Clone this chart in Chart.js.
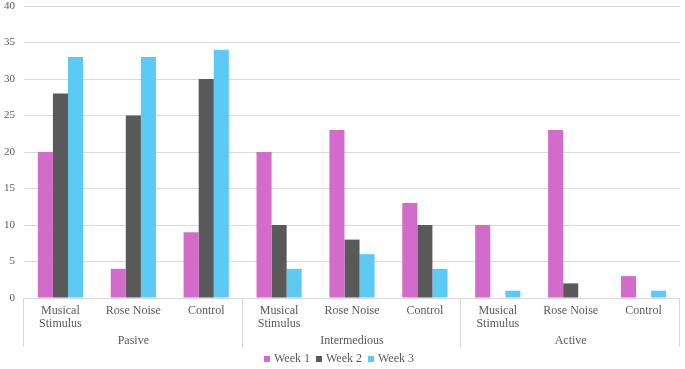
<!DOCTYPE html>
<html>
<head>
<meta charset="utf-8">
<script src="https://cdn.jsdelivr.net/npm/chart.js@4"></script>
<style>
  html, body { margin: 0; background: #fff; }
  #wrap { width: 685px; height: 369px; }
</style>
</head>
<body>
<div id="wrap"><canvas id="chart"></canvas></div>
<script>
const groups = ['Pasive', 'Intermedious', 'Active'];
const conditions = [['Musical', 'Stimulus'], 'Rose Noise', 'Control'];
const week1 = [20, 4, 9, 20, 23, 13, 10, 23, 3];
const week2 = [28, 25, 30, 10, 8, 10, 0, 2, 0];
const week3 = [33, 33, 34, 4, 6, 4, 1, 0, 1];
const yMin = 0, yMax = 40, yStep = 5;

const categories = groups.flatMap(() => conditions);
const groupLabels = groups.flatMap(g => ['', g, '']);

const textColor = '#595959';
const lineColor = '#d9d9d9';
const font = { family: '"Liberation Serif", "Times New Roman", serif', size: 12, lineHeight: 1.1 };

// vertical separators between the groups, down through both label rows
const groupLines = {
  id: 'groupLines',
  afterDraw(chart) {
    const x = chart.scales.x, c = chart.ctx;
    c.save();
    c.strokeStyle = lineColor;
    c.lineWidth = 1;
    for (let g = 0; g <= groups.length; g++) {
      const i = g * conditions.length;
      let px;
      if (i === 0) px = x.left;
      else if (i === categories.length) px = x.right;
      else px = (x.getPixelForValue(i - 1) + x.getPixelForValue(i)) / 2;
      px = Math.round(px) - 0.5;
      c.beginPath();
      c.moveTo(px, x.top);
      c.lineTo(px, x.top + 49);
      c.stroke();
    }
    c.restore();
  }
};

new Chart(document.getElementById('chart'), {
  type: 'bar',
  data: {
    labels: categories,
    datasets: [
      { label: 'Week 1', data: week1, backgroundColor: '#d36bca' },
      { label: 'Week 2', data: week2, backgroundColor: '#595959' },
      { label: 'Week 3', data: week3, backgroundColor: '#5ccaf3' }
    ]
  },
  options: {
    responsive: true,
    maintainAspectRatio: false,
    animation: false,
    layout: { padding: { left: 0, right: 5, top: 6, bottom: -6 } },
    datasets: { bar: { categoryPercentage: 0.62, barPercentage: 1.0 } },
    scales: {
      y: {
        min: yMin, max: yMax,
        afterFit: s => { s.width = 24; s.paddingTop = 0; s.paddingBottom = 0; },
        ticks: { stepSize: yStep, color: textColor, font: { ...font, size: 11 }, padding: 9 },
        grid: { color: lineColor, drawTicks: false },
        border: { display: false }
      },
      x: {
        afterFit: s => { s.height = 32; s.paddingLeft = 0; s.paddingRight = 0; },
        grid: { display: false, drawTicks: false },
        border: { display: false },
        ticks: { color: textColor, font: font, maxRotation: 0, autoSkip: false, padding: 6 }
      },
      x2: {
        type: 'category',
        position: 'bottom',
        labels: groupLabels,
        weight: 1,
        afterFit: s => { s.height = 15; s.paddingLeft = 0; s.paddingRight = 0; },
        grid: { display: false, drawTicks: false },
        border: { display: false },
        ticks: { color: textColor, font: font, maxRotation: 0, autoSkip: false, padding: 4 }
      }
    },
    plugins: {
      legend: {
        position: 'bottom',
        labels: {
          color: textColor, font: font, padding: 8,
          usePointStyle: true, pointStyle: 'rect', boxWidth: 2, boxHeight: 6
        }
      },
      tooltip: { enabled: false }
    }
  },
  plugins: [groupLines]
});
</script>
</body>
</html>
